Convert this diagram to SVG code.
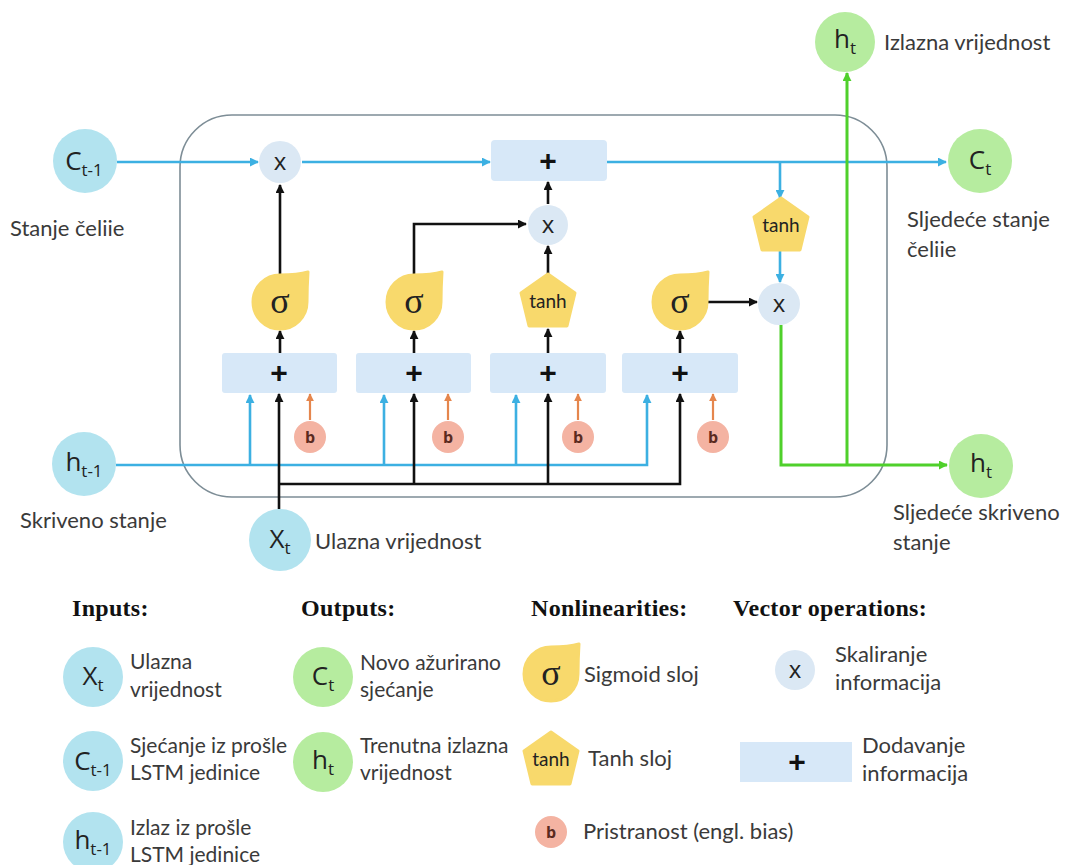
<svg xmlns="http://www.w3.org/2000/svg" width="1073" height="865" viewBox="0 0 1073 865">
<style>
.lbl{font-family:Lato,"Liberation Sans",sans-serif;font-size:22px;fill:#3a3a3a}
.lg{font-family:Lato,"Liberation Sans",sans-serif;font-size:21px;fill:#3a3a3a}
.hd{font-family:"Liberation Serif",serif;font-size:24px;font-weight:bold;fill:#111;letter-spacing:0.3px}
.big{font-family:"Open Sans","Liberation Sans",sans-serif;font-size:26px;fill:#222}
.sub{font-size:17px}
.sig{font-family:"Liberation Serif",serif;font-size:36px;fill:#222}
.tanh{font-family:Lato,"Liberation Sans",sans-serif;font-size:19px;fill:#222}
.mul{font-family:"Open Sans","Liberation Sans",sans-serif;font-size:24px;fill:#222}
.plus{font-family:"Liberation Sans",sans-serif;font-size:30px;font-weight:bold;fill:#111}
.bt{font-family:"Open Sans","Liberation Sans",sans-serif;font-size:16px;font-weight:bold;fill:#5a2a20}
.in{fill:#b2e3ef}
.out{fill:#b6ec9f}
.yel{fill:#f8d96c;stroke:#f8d96c;stroke-width:3;stroke-linejoin:round}
.mc{fill:#dbe8f4}
.add{fill:#d7e8f8}
.bias{fill:#f4b3a2}
.k{stroke:#111;stroke-width:2.6;fill:none}
.bl{stroke:#3cb0e2;stroke-width:2.6;fill:none}
.gr{stroke:#4fd02b;stroke-width:3;fill:none}
.or{stroke:#e5864d;stroke-width:2.2;fill:none}
</style>
<defs>
<marker id="ak" viewBox="0 0 10 10" refX="9" refY="5" markerWidth="9" markerHeight="9" markerUnits="userSpaceOnUse" orient="auto"><path d="M0,0 L10,5 L0,10 z" fill="#111"/></marker>
<marker id="ab" viewBox="0 0 10 10" refX="9" refY="5" markerWidth="9" markerHeight="9" markerUnits="userSpaceOnUse" orient="auto"><path d="M0,0 L10,5 L0,10 z" fill="#3cb0e2"/></marker>
<marker id="ag" viewBox="0 0 10 10" refX="9" refY="5" markerWidth="9" markerHeight="9" markerUnits="userSpaceOnUse" orient="auto"><path d="M0,0 L10,5 L0,10 z" fill="#4fd02b"/></marker>
<marker id="ao" viewBox="0 0 10 10" refX="9" refY="5" markerWidth="8" markerHeight="8" markerUnits="userSpaceOnUse" orient="auto"><path d="M0,0 L10,5 L0,10 z" fill="#e5864d"/></marker>
<path id="sigp" d="M0,-27 Q18,-27 28,-30 Q27,-14 27,0 A27,27 0 0 1 0,27 A27,27 0 0 1 -27,0 A27,27 0 0 1 0,-27 Z"/>
<path id="pent" d="M0,-27 L27,-8 L19,25 L-19,25 L-27,-8 Z"/>
</defs>
<rect width="1073" height="865" fill="#fff"/>

<rect id="frame" x="180" y="115" width="707" height="382" rx="52" ry="52" fill="none" stroke="#7d8d96" stroke-width="1.6"/>

<g id="connectors">
  <line class="bl" x1="117" y1="162" x2="258" y2="162" marker-end="url(#ab)"/>
  <line class="bl" x1="302" y1="162" x2="490" y2="162" marker-end="url(#ab)"/>
  <line class="bl" x1="607" y1="162" x2="946" y2="162" marker-end="url(#ab)"/>
  <line class="bl" x1="780" y1="162" x2="780" y2="198" marker-end="url(#ab)"/>
  <line class="bl" x1="780" y1="250" x2="780" y2="282" marker-end="url(#ab)"/>
  <polyline class="bl" points="116,465 647,465 647,395" marker-end="url(#ab)"/>
  <line class="bl" x1="250" y1="465" x2="250" y2="395" marker-end="url(#ab)"/>
  <line class="bl" x1="384" y1="465" x2="384" y2="395" marker-end="url(#ab)"/>
  <line class="bl" x1="516" y1="465" x2="516" y2="395" marker-end="url(#ab)"/>
  <line class="k" x1="279" y1="509" x2="279" y2="394" marker-end="url(#ak)"/>
  <polyline class="k" points="279,484 680,484 680,394" marker-end="url(#ak)"/>
  <line class="k" x1="414" y1="484" x2="414" y2="394" marker-end="url(#ak)"/>
  <line class="k" x1="548" y1="484" x2="548" y2="394" marker-end="url(#ak)"/>
  <line class="or" x1="310" y1="420" x2="310" y2="394" marker-end="url(#ao)"/>
  <line class="or" x1="448" y1="420" x2="448" y2="394" marker-end="url(#ao)"/>
  <line class="or" x1="578" y1="420" x2="578" y2="394" marker-end="url(#ao)"/>
  <line class="or" x1="713" y1="420" x2="713" y2="394" marker-end="url(#ao)"/>
  <line class="k" x1="280" y1="353" x2="280" y2="331" marker-end="url(#ak)"/>
  <line class="k" x1="414" y1="353" x2="414" y2="331" marker-end="url(#ak)"/>
  <line class="k" x1="548" y1="353" x2="548" y2="329" marker-end="url(#ak)"/>
  <line class="k" x1="680" y1="353" x2="680" y2="331" marker-end="url(#ak)"/>
  <line class="k" x1="280" y1="275" x2="280" y2="185" marker-end="url(#ak)"/>
  <polyline class="k" points="414,275 414,224 526,224" marker-end="url(#ak)"/>
  <line class="k" x1="548" y1="274" x2="548" y2="246" marker-end="url(#ak)"/>
  <line class="k" x1="548" y1="204" x2="548" y2="182" marker-end="url(#ak)"/>
  <line class="k" x1="708" y1="302" x2="757" y2="302" marker-end="url(#ak)"/>
  <polyline class="gr" points="781,325 781,465 947,465" marker-end="url(#ag)"/>
  <line class="gr" x1="847" y1="465" x2="847" y2="73" marker-end="url(#ag)"/>
</g>

<g id="c_prev"><circle class="in" cx="85" cy="161" r="32"/><text class="big" x="84" y="170" text-anchor="middle">C<tspan class="sub" dy="6">t-1</tspan></text></g>
<g id="h_prev"><circle class="in" cx="84" cy="464" r="32"/><text class="big" x="84" y="471" text-anchor="middle">h<tspan class="sub" dy="6">t-1</tspan></text></g>
<g id="x_t"><circle class="in" cx="280" cy="540" r="31"/><text class="big" x="280" y="548" text-anchor="middle">X<tspan class="sub" dy="6">t</tspan></text></g>
<g id="c_t"><circle class="out" cx="980" cy="161" r="32"/><text class="big" x="980" y="169" text-anchor="middle">C<tspan class="sub" dy="6">t</tspan></text></g>
<g id="h_top"><circle class="out" cx="845" cy="42" r="30"/><text class="big" x="845" y="48" text-anchor="middle">h<tspan class="sub" dy="6">t</tspan></text></g>
<g id="h_t"><circle class="out" cx="981" cy="466" r="32"/><text class="big" x="981" y="472" text-anchor="middle">h<tspan class="sub" dy="6">t</tspan></text></g>

<g id="mul_forget"><circle class="mc" cx="280" cy="162" r="21"/><text class="mul" x="280" y="170" text-anchor="middle">x</text></g>
<g id="add_cell"><rect class="add" x="491" y="140" width="116" height="41" rx="4"/><text class="plus" x="548" y="171" text-anchor="middle">+</text></g>
<g id="mul_input"><circle class="mc" cx="548" cy="225" r="20"/><text class="mul" x="548" y="233" text-anchor="middle">x</text></g>
<g id="tanh_out"><use href="#pent" class="yel" x="781" y="225"/><text class="tanh" x="781" y="232" text-anchor="middle">tanh</text></g>
<g id="mul_out"><circle class="mc" cx="779" cy="304" r="21"/><text class="mul" x="779" y="312" text-anchor="middle">x</text></g>

<g id="sig1"><use href="#sigp" class="yel" x="280" y="302"/><text class="sig" x="280" y="313" text-anchor="middle">σ</text></g>
<g id="sig2"><use href="#sigp" class="yel" x="414" y="302"/><text class="sig" x="414" y="313" text-anchor="middle">σ</text></g>
<g id="tanh_in"><use href="#pent" class="yel" x="548" y="301"/><text class="tanh" x="548" y="308" text-anchor="middle">tanh</text></g>
<g id="sig3"><use href="#sigp" class="yel" x="680" y="302"/><text class="sig" x="680" y="313" text-anchor="middle">σ</text></g>

<g id="add1"><rect class="add" x="222" y="353" width="115" height="40" rx="3"/><text class="plus" x="279" y="383" text-anchor="middle">+</text></g>
<g id="add2"><rect class="add" x="356" y="353" width="115" height="40" rx="3"/><text class="plus" x="414" y="383" text-anchor="middle">+</text></g>
<g id="add3"><rect class="add" x="490" y="353" width="116" height="40" rx="3"/><text class="plus" x="548" y="383" text-anchor="middle">+</text></g>
<g id="add4"><rect class="add" x="622" y="353" width="116" height="40" rx="3"/><text class="plus" x="680" y="383" text-anchor="middle">+</text></g>

<g id="b1"><circle class="bias" cx="310" cy="437" r="16"/><text class="bt" x="310" y="443" text-anchor="middle">b</text></g>
<g id="b2"><circle class="bias" cx="448" cy="437" r="16"/><text class="bt" x="448" y="443" text-anchor="middle">b</text></g>
<g id="b3"><circle class="bias" cx="578" cy="437" r="16"/><text class="bt" x="578" y="443" text-anchor="middle">b</text></g>
<g id="b4"><circle class="bias" cx="713" cy="437" r="16"/><text class="bt" x="713" y="443" text-anchor="middle">b</text></g>

<g id="labels">
  <text class="lbl" x="10" y="236">Stanje čeliie</text>
  <text class="lbl" x="907" y="227">Sljedeće stanje</text>
  <text class="lbl" x="907" y="257">čeliie</text>
  <text class="lbl" x="884" y="50">Izlazna vrijednost</text>
  <text class="lbl" x="20" y="528">Skriveno stanje</text>
  <text class="lbl" x="315" y="549">Ulazna vrijednost</text>
  <text class="lbl" x="893" y="520">Sljedeće skriveno</text>
  <text class="lbl" x="893" y="550">stanje</text>
</g>

<g id="legend">
  <text class="hd" x="72" y="616">Inputs:</text>
  <text class="hd" x="301" y="616">Outputs:</text>
  <text class="hd" x="531" y="616">Nonlinearities:</text>
  <text class="hd" x="733" y="616">Vector operations:</text>

  <g id="lg_x"><circle class="in" cx="93" cy="677" r="30"/><text class="big" x="93" y="685" text-anchor="middle">X<tspan class="sub" dy="6">t</tspan></text>
    <text class="lg" x="130" y="669">Ulazna</text><text class="lg" x="130" y="697">vrijednost</text></g>
  <g id="lg_c"><circle class="in" cx="93" cy="761" r="30"/><text class="big" x="93" y="770" text-anchor="middle">C<tspan class="sub" dy="6">t-1</tspan></text>
    <text class="lg" x="130" y="753">Sjećanje iz prošle</text><text class="lg" x="130" y="780">LSTM jedinice</text></g>
  <g id="lg_h"><circle class="in" cx="93" cy="842" r="30"/><text class="big" x="93" y="849" text-anchor="middle">h<tspan class="sub" dy="6">t-1</tspan></text>
    <text class="lg" x="130" y="835">Izlaz iz prošle</text><text class="lg" x="130" y="862">LSTM jedinice</text></g>
  <g id="lg_ct"><circle class="out" cx="323" cy="677" r="30"/><text class="big" x="323" y="685" text-anchor="middle">C<tspan class="sub" dy="6">t</tspan></text>
    <text class="lg" x="360" y="670">Novo ažurirano</text><text class="lg" x="360" y="697">sjećanje</text></g>
  <g id="lg_ht"><circle class="out" cx="323" cy="762" r="30"/><text class="big" x="323" y="769" text-anchor="middle">h<tspan class="sub" dy="6">t</tspan></text>
    <text class="lg" x="360" y="753">Trenutna izlazna</text><text class="lg" x="360" y="780">vrijednost</text></g>
  <g id="lg_sig"><use href="#sigp" class="yel" x="551" y="674"/><text class="sig" x="551" y="685" text-anchor="middle">σ</text>
    <text class="lbl" x="584" y="682">Sigmoid sloj</text></g>
  <g id="lg_tanh"><use href="#pent" class="yel" x="551" y="759"/><text class="tanh" x="551" y="766" text-anchor="middle">tanh</text>
    <text class="lbl" x="588" y="766">Tanh sloj</text></g>
  <g id="lg_b"><circle class="bias" cx="551" cy="832" r="16"/><text class="bt" x="551" y="838" text-anchor="middle">b</text>
    <text class="lbl" x="583" y="839">Pristranost (engl. bias)</text></g>
  <g id="lg_mul"><circle class="mc" cx="795" cy="670" r="20"/><text class="mul" x="795" y="678" text-anchor="middle">x</text>
    <text class="lbl" x="835" y="662">Skaliranje</text><text class="lbl" x="835" y="690">informacija</text></g>
  <g id="lg_add"><rect class="add" x="740" y="742" width="112" height="40"/><text class="plus" x="797" y="772" text-anchor="middle">+</text>
    <text class="lbl" x="862" y="753">Dodavanje</text><text class="lbl" x="862" y="781">informacija</text></g>
</g>
</svg>
